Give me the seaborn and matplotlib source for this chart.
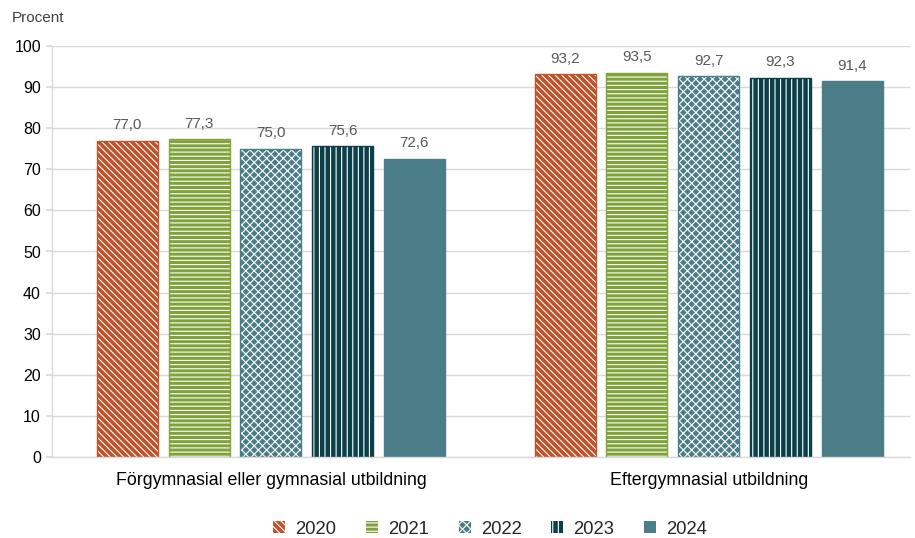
import matplotlib.pyplot as plt
import matplotlib.patches as mpatches
import pandas as pd
import seaborn as sns

# data
categories = ["Förgymnasial eller gymnasial utbildning", "Eftergymnasial utbildning"]
years = ["2020", "2021", "2022", "2023", "2024"]
v2020 = [77.0, 93.2]
v2021 = [77.3, 93.5]
v2022 = [75.0, 92.7]
v2023 = [75.6, 92.3]
v2024 = [72.6, 91.4]

colors = ["#C0522A", "#7FA33A", "#4B7D88", "#0B3F4A", "#4B7D88"]
hatches = ["\\\\\\\\\\", "----", "xxxx", "|||", ""]

rows = []
for year, vals in zip(years, [v2020, v2021, v2022, v2023, v2024]):
    for cat, v in zip(categories, vals):
        rows.append({"kategori": cat, "year": year, "value": v})
df = pd.DataFrame(rows)

sns.set_theme(style="white")
plt.rcParams["font.family"] = ["Liberation Sans", "DejaVu Sans"]
plt.rcParams["hatch.linewidth"] = 0.8

fig, ax = plt.subplots(figsize=(9.15, 5.38), dpi=100)
fig.subplots_adjust(left=52 / 915, right=910 / 915, top=1 - 46 / 538, bottom=1 - 457 / 538)

sns.barplot(data=df, x="kategori", y="value", hue="year", palette=colors,
            width=0.82, gap=0.15, saturation=1, legend=False, ax=ax)

handles = []
for cont, col, h, year in zip(ax.containers, colors, hatches, years):
    for bar in cont:
        bar.set_hatch(h)
        bar.set_edgecolor("white")
        bar.set_linewidth(0)
        # outline in bar colour (hatch uses the white edge colour)
        ax.add_patch(mpatches.Rectangle(bar.get_xy(), bar.get_width(), bar.get_height(),
                                        fill=False, edgecolor=col, linewidth=1.0, zorder=bar.get_zorder() + 0.1))
    ax.bar_label(cont, labels=[f"{b.get_height():.1f}".replace(".", ",") for b in cont],
                 padding=6, fontsize=11, color="#595959")
    handles.append(mpatches.Patch(facecolor=col, hatch=h, edgecolor="white", linewidth=0, label=year))

ax.set_ylim(0, 100)
ax.set_yticks(range(0, 101, 10))
ax.set_xlim(-0.5, 1.46)
ax.set_xlabel("")
ax.set_ylabel("")
ax.yaxis.grid(True, color="#D9D9D9", linewidth=1)
ax.set_axisbelow(True)
for s in ["top", "right"]:
    ax.spines[s].set_visible(False)
for s in ["left", "bottom"]:
    ax.spines[s].set_color("#D9D9D9")
    ax.spines[s].set_linewidth(1)
ax.tick_params(axis="y", length=4, color="#D9D9D9", labelsize=11.5, labelcolor="#000000", pad=4, left=True)
ax.tick_params(axis="x", length=0, labelsize=12.8, labelcolor="#000000", pad=11)

fig.text(12 / 915, 1 - 18 / 538, "Procent", fontsize=11, color="#404040", va="center", ha="left")

fig.legend(handles=handles, loc="center", bbox_to_anchor=(490 / 915, 1 - 529 / 538), ncol=5,
           frameon=False, fontsize=13.3, handlelength=0.65, handleheight=0.65,
           handletextpad=0.55, columnspacing=1.6)

fig.savefig("out.png", dpi=100)
